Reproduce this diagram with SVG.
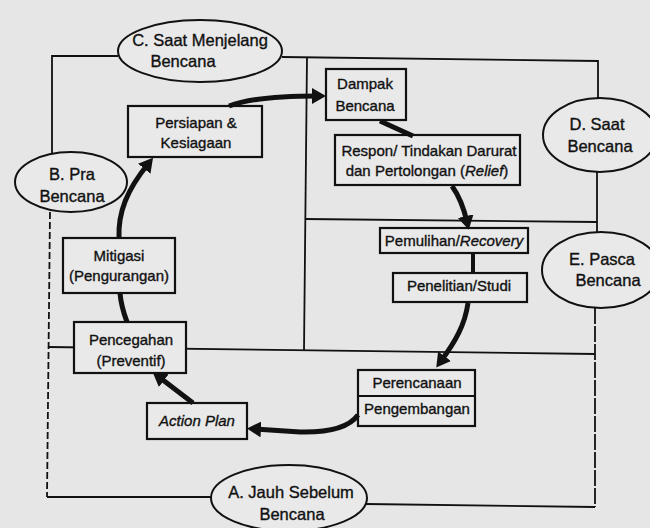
<svg xmlns="http://www.w3.org/2000/svg" width="650" height="528" viewBox="0 0 650 528">
  <defs>
    <style>
      .frame { fill: none; stroke: #111; stroke-width: 1.8; }
      .dash { fill: none; stroke: #111; stroke-width: 1.8; stroke-dasharray: 7 3; }
      .dash-long { fill: none; stroke: #111; stroke-width: 1.8; stroke-dasharray: 16 2; }
      .box { fill: #e9e9e9; stroke: #111; stroke-width: 2.2; }
      .oval { fill: #e9e9e9; stroke: #111; stroke-width: 2; }
      .flow { fill: none; stroke: #111; stroke-width: 5; stroke-linecap: butt; }
      .link { fill: none; stroke: #111; stroke-width: 5; }
      text { font-family: "Liberation Sans", Arial, sans-serif; fill: #111; stroke: #111; stroke-width: 0.35; text-anchor: middle; }
      .t { font-size: 15px; }
      .o { font-size: 16.5px; }
      .i { font-style: italic; }
    </style>
    <marker id="head" markerUnits="userSpaceOnUse" markerWidth="16" markerHeight="18" refX="6" refY="8" orient="auto">
      <path d="M0,0 L14,8 L0,16 Z" fill="#111"/>
    </marker>
  </defs>

  <rect x="0" y="0" width="650" height="528" fill="#e6e6e6"/>

  <!-- phase frame -->
  <g id="frame">
    <path class="frame" d="M118 56 L52 56 L52 154"/>
    <path class="dash" d="M50 212 L47 497"/>
    <path class="frame" d="M47 497 L211 497"/>
    <path class="frame" d="M282 57 L598 61 L598 98"/>
    <path class="frame" d="M597 172 L597 232"/>
    <path class="dash-long" d="M595 308 L595 507"/>
    <path class="frame" d="M595 507 L366 504"/>
    <path class="frame" d="M307 57 L304 350"/>
    <path class="frame" d="M305 219 L597 222"/>
    <path class="frame" d="M48 347 L595 354"/>
  </g>

  <!-- phase labels -->
  <g id="phase-c">
    <ellipse class="oval" cx="200" cy="51" rx="82" ry="31"/>
    <text class="o" x="200" y="46">C. Saat Menjelang</text>
    <text class="o" x="183" y="67">Bencana</text>
  </g>
  <g id="phase-b">
    <ellipse class="oval" cx="71" cy="182" rx="56" ry="30"/>
    <text class="o" x="72" y="180">B. Pra</text>
    <text class="o" x="72" y="202">Bencana</text>
  </g>
  <g id="phase-d">
    <ellipse class="oval" cx="600" cy="135" rx="57" ry="37"/>
    <text class="o" x="597" y="130">D. Saat</text>
    <text class="o" x="600" y="152">Bencana</text>
  </g>
  <g id="phase-e">
    <ellipse class="oval" cx="601" cy="270" rx="59" ry="38"/>
    <text class="o" x="602" y="265">E. Pasca</text>
    <text class="o" x="608" y="286">Bencana</text>
  </g>
  <g id="phase-a">
    <ellipse class="oval" cx="289" cy="498" rx="78" ry="33"/>
    <text class="o" x="291" y="498">A. Jauh Sebelum</text>
    <text class="o" x="292" y="520">Bencana</text>
  </g>

  <!-- cycle steps -->
  <g id="persiapan">
    <rect class="box" x="128" y="106" width="134" height="51"/>
    <text class="t" x="196" y="128">Persiapan &amp;</text>
    <text class="t" x="196" y="148">Kesiagaan</text>
  </g>
  <g id="dampak">
    <rect class="box" x="326" y="69" width="80" height="51"/>
    <text class="t" x="365" y="89">Dampak</text>
    <text class="t" x="365" y="111">Bencana</text>
  </g>
  <g id="respon">
    <rect class="box" x="335" y="135" width="185" height="50"/>
    <text class="t" x="429" y="156">Respon/ Tindakan Darurat</text>
    <text class="t" x="427" y="176">dan Pertolongan (<tspan class="i">Relief</tspan>)</text>
  </g>
  <g id="pemulihan">
    <rect class="box" x="380" y="228" width="148" height="25"/>
    <text class="t" x="454" y="246">Pemulihan/<tspan class="i">Recovery</tspan></text>
  </g>
  <g id="penelitian">
    <rect class="box" x="393" y="273" width="134" height="29"/>
    <text class="t" x="459" y="291">Penelitian/Studi</text>
  </g>
  <g id="perencanaan">
    <rect class="box" x="358" y="370" width="117" height="56"/>
    <line class="frame" x1="358" y1="396" x2="475" y2="396" style="stroke-width:2"/>
    <text class="t" x="417" y="388">Perencanaan</text>
    <text class="t" x="417" y="414">Pengembangan</text>
  </g>
  <g id="action-plan">
    <rect class="box" x="147" y="403" width="100" height="36"/>
    <text class="t i" x="197" y="426">Action Plan</text>
  </g>
  <g id="pencegahan">
    <rect class="box" x="74" y="322" width="112" height="51"/>
    <text class="t" x="131" y="345">Pencegahan</text>
    <text class="t" x="131" y="366">(Preventif)</text>
  </g>
  <g id="mitigasi">
    <rect class="box" x="63" y="238" width="112" height="55"/>
    <text class="t" x="119" y="261">Mitigasi</text>
    <text class="t" x="119" y="281">(Pengurangan)</text>
  </g>

  <!-- cycle connectors -->
  <g id="connectors">
    <path class="flow" d="M358 415 Q345 433 300 432 L255 429" marker-end="url(#head)"/>
    <path class="flow" d="M193 403 L159 377" marker-end="url(#head)"/>
    <path class="link" d="M127 322 Q121 306 120 293"/>
    <path class="flow" d="M119 238 C118 212 127 190 148 164" marker-end="url(#head)"/>
    <path class="flow" d="M229 106 C250 98 280 96 318 96" marker-end="url(#head)"/>
    <path class="link" d="M380 121 L413 136"/>
    <path class="flow" d="M452 186 Q462 200 467 222" marker-end="url(#head)"/>
    <path class="link" d="M473 253 L473 273" style="stroke-width:4"/>
    <path class="flow" d="M468 303 C465 325 455 342 441 361" marker-end="url(#head)"/>
  </g>
</svg>
